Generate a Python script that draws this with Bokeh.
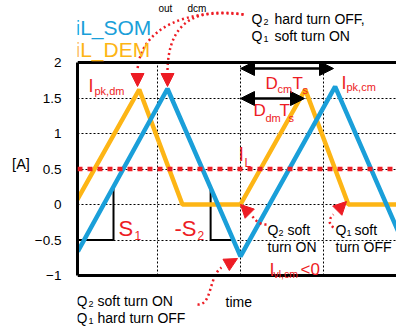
import numpy as np
from bokeh.plotting import figure
from bokeh.models import (Range1d, FixedTicker, Label, Arrow, NormalHead, Span,
                          LinearAxis, Grid)
from bokeh.embed import file_html
from bokeh.resources import INLINE

# ---------------- data ----------------
som_t = [0.04, 1.12, 2.00, 3.14, 3.90]         # iL_SOM corner times
som_i = [-0.66, 1.63, -0.73, 1.66, -0.38]      # iL_SOM current [A]
dem_t = [0.00, 0.78, 1.30, 2.00, 2.78, 3.30, 3.90]  # iL_DEM corner times
dem_i = [0.00, 1.62, 0.00, 0.00, 1.62, 0.00, 0.00]  # iL_DEM current [A]
i_avg = 0.5                                     # I_L average current
y_ticks = [-1, -0.5, 0, 0.5, 1, 1.5, 2]
y_grid = [-0.5, 0, 0.5, 1, 1.5]
t_grid = [1, 2, 3]
y_lo, y_hi = -1, 2

BLUE = "#1a9fd9"
ORANGE = "#fdb515"
RED = "#ed1c24"
FONT = "Liberation Sans"

# pixel helpers (page px -> data) for annotation placement only
def tx(px):
    return (px - 74) / 83.0

def vy(py):
    return (204 - py) / 71.0

p = figure(width=396, height=326, output_backend="svg", toolbar_location=None,
           x_range=Range1d(tx(77), tx(396)), y_range=Range1d(vy(326), vy(0)),
           x_axis_type=None, y_axis_type=None, title=None,
           min_border_left=77, min_border_right=0, min_border_top=0,
           min_border_bottom=0)
p.outline_line_color = None
p.background_fill_color = "white"
p.border_fill_color = "white"

yaxis = LinearAxis(ticker=FixedTicker(ticks=y_ticks), bounds=(y_lo, y_hi))
yaxis.axis_line_width = 3
yaxis.axis_line_color = "black"
yaxis.major_tick_line_color = None
yaxis.minor_tick_line_color = None
yaxis.major_label_standoff = 10
yaxis.major_label_text_font = FONT
yaxis.major_label_text_font_size = "13.5px"
yaxis.major_label_text_color = "black"
yaxis.axis_label = "[A]"
yaxis.axis_label_text_font = FONT
yaxis.axis_label_text_font_size = "14.5px"
yaxis.axis_label_text_font_style = "normal"
yaxis.axis_label_text_color = "black"
yaxis.axis_label_standoff = 2
try:
    yaxis.axis_label_orientation = "horizontal"
except Exception:
    pass
p.add_layout(yaxis, "left")

gy = Grid(dimension=1, ticker=FixedTicker(ticks=y_grid),
          grid_line_color="black", grid_line_dash="2 2", grid_line_width=1)
p.add_layout(gy)
# vertical grid lines limited to the plotted value range
p.segment(x0=t_grid, y0=[y_lo] * len(t_grid), x1=t_grid, y1=[y_hi] * len(t_grid),
          line_color="black", line_dash="2 2", line_width=1)

# top and bottom frame lines
p.add_layout(Span(location=y_hi, dimension="width", line_color="black", line_width=3))
p.add_layout(Span(location=y_lo, dimension="width", line_color="black", line_width=3))

# slope triangles (under the waveforms)
t_s1 = 0.47
top1 = float(np.interp(t_s1, som_t, som_i))
p.line([tx(77), t_s1, t_s1], [-0.5, -0.5, top1], line_color="black", line_width=2)
t_s2 = 1.64
top2 = float(np.interp(t_s2, som_t, som_i))
t_end2 = som_t[1] + (som_t[2] - som_t[1]) * (som_i[1] + 0.5) / (som_i[1] - som_i[2])
p.line([t_s2, t_s2, t_end2], [top2, -0.5, -0.5], line_color="black", line_width=2)

# waveforms
p.line(dem_t, dem_i, line_color=ORANGE, line_width=4.5)
p.line(som_t, som_i, line_color=BLUE, line_width=4.5)

# average current line
p.add_layout(Span(location=i_avg, dimension="width", line_color=RED,
                  line_width=4.5, line_dash="5 5"))

# red dotted curved pointers
curves = [
    ((243, 14), (190, 8), (140, 25), (137, 70)),
    ((243, 14), (196, 7), (168, 20), (167, 70)),
    ((197, 304), (212, 305), (208, 276), (221, 267)),
    ((266, 224), (259, 224), (256, 221), (252, 216)),
    ((333, 227), (328, 224), (328, 218), (333, 214)),
]
for (a, c0, c1, b) in curves:
    p.bezier(x0=[tx(a[0])], y0=[vy(a[1])], x1=[tx(b[0])], y1=[vy(b[1])],
             cx0=[tx(c0[0])], cy0=[vy(c0[1])], cx1=[tx(c1[0])], cy1=[vy(c1[1])],
             line_color=RED, line_width=2.5, line_dash="2 3")

heads = [
    ((137, 70), (137, 86)),
    ((167, 70), (167, 86)),
    ((221, 267), (237, 258)),
    ((252, 216), (240, 204)),
    ((333, 214), (346, 201)),
]
for (s, e) in heads:
    p.add_layout(Arrow(x_start=tx(s[0]), y_start=vy(s[1]), x_end=tx(e[0]), y_end=vy(e[1]),
                       line_alpha=0, line_width=0,
                       end=NormalHead(size=13, fill_color=RED, line_color=RED, line_width=1)))

# black double arrows D_cm Ts and D_dm Ts
for (x0, x1, yy) in [(240, 333, 68), (240, 304, 98)]:
    p.add_layout(Arrow(x_start=tx(x0), y_start=vy(yy), x_end=tx(x1), y_end=vy(yy),
                       line_color="black", line_width=2.5,
                       start=NormalHead(size=14, fill_color="black", line_color="black"),
                       end=NormalHead(size=14, fill_color="black", line_color="black")))

def lab(px, py, text, size, color="black"):
    p.add_layout(Label(x=tx(px), y=vy(py), text=text, text_font=FONT,
                       text_font_size=f"{size}px", text_color=color,
                       text_baseline="alphabetic", text_align="left"))

# subscripts of the (cropped) top caption
lab(158, 8, "out", 10)
lab(187, 8, "dcm", 10)

# series names
lab(75, 27, "iL_SOM", 21, BLUE)
lab(75, 49, "iL_DEM", 21, ORANGE)

# time label
lab(225, 301, "time", 14)

# black annotations
lab(251, 18, "Q", 14); lab(263, 21, "2", 9); lab(274, 18, "hard turn OFF,", 14)
lab(251, 35, "Q", 14); lab(263, 38, "1", 9); lab(274, 35, "soft turn ON", 14)
lab(76, 300, "Q", 14); lab(88, 303, "2", 9); lab(97, 300, "soft turn ON", 14)
lab(76, 317, "Q", 14); lab(88, 320, "1", 9); lab(97, 317, "hard turn OFF", 14)
lab(267, 229, "Q", 14); lab(278, 232, "2", 9); lab(287, 229, "soft", 14)
lab(267, 246, "turn ON", 14)
lab(335, 229, "Q", 14); lab(346, 232, "1", 9); lab(354, 229, "soft", 14)
lab(335, 246, "turn OFF", 14)

# red annotations
lab(88, 85, "I", 18, RED); lab(94, 90, "pk,dm", 11, RED)
lab(341, 82, "I", 18, RED); lab(346, 86, "pk,cm", 11, RED)
lab(265, 83, "D", 17, RED); lab(277, 88, "cm", 11, RED)
lab(292, 83, "T", 17, RED); lab(302, 89, "s", 11, RED)
lab(253, 110, "D", 17, RED); lab(265, 117, "dm", 11, RED)
lab(279, 110, "T", 17, RED); lab(288, 117, "s", 11, RED)
lab(238, 153, "I", 20, RED); lab(244, 162, "L", 12, RED)
lab(118, 228, "S", 22, RED); lab(134, 235, "1", 12, RED)
lab(174, 228, "-S", 22, RED); lab(197, 235, "2", 12, RED)
lab(269, 269, "I", 18, RED); lab(273, 273, "vl,cm", 10.5, RED); lab(300, 269, "<0", 17, RED)

open("out.html", "w").write(file_html(p, INLINE))
